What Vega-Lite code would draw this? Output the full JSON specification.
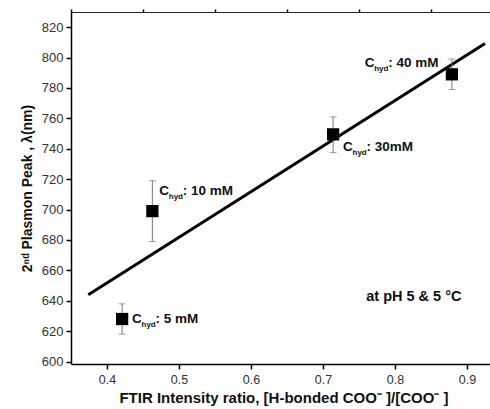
{
  "$schema": "https://vega.github.io/schema/vega-lite/v6.json",
  "width": 419,
  "height": 352,
  "autosize": {"type": "none"},
  "padding": {"left": 71, "top": 12, "right": 0, "bottom": 45},
  "background": "white",
  "config": {
    "view": {"stroke": null},
    "font": "Liberation Sans",
    "axis": {"grid": false, "domainColor": "#000", "domainWidth": 1.5, "tickColor": "#000", "tickWidth": 1.5, "labelColor": "#333", "labelFont": "Liberation Sans", "labelFontSize": 12.5, "titleFont": "Liberation Sans", "titleFontSize": 14, "titleFontWeight": "bold", "titleColor": "#111"}
  },
  "datasets": {
    "pts": [
      {"x": 0.421, "y": 628, "lo": 618, "hi": 638},
      {"x": 0.463, "y": 699, "lo": 679, "hi": 719},
      {"x": 0.714, "y": 749.5, "lo": 737.5, "hi": 761},
      {"x": 0.879, "y": 789, "lo": 779, "hi": 799}
    ],
    "fit": [
      {"x": 0.374, "y": 644},
      {"x": 0.925, "y": 809.3}
    ],
    "labels": [
      {"x": 0.4347, "y": 628, "rest": ": 5 mM"},
      {"x": 0.4726, "y": 712, "rest": ": 10 mM"},
      {"x": 0.7578, "y": 796.5, "rest": ": 40 mM"},
      {"x": 0.7278, "y": 741.5, "rest": ": 30mM"}
    ],
    "note": [{"x": 0.760, "y": 642.5, "t": "at pH 5 & 5 °C"}],
    "xminor": [{"v": 0.35}, {"v": 0.45}, {"v": 0.55}, {"v": 0.65}, {"v": 0.75}, {"v": 0.85}],
    "yminor": [{"v": 610}, {"v": 630}, {"v": 650}, {"v": 670}, {"v": 690}, {"v": 710}, {"v": 730}, {"v": 750}, {"v": 770}, {"v": 790}, {"v": 810}]
  },
  "resolve": {"axis": {"x": "independent", "y": "independent"}},
  "layer": [
    {
      "data": {"name": "fit"},
      "mark": {"type": "line", "color": "#000", "strokeWidth": 3},
      "encoding": {
        "x": {"field": "x", "type": "quantitative", "scale": {"domain": [0.35, 0.9319], "nice": false, "zero": false},
          "axis": {"values": [0.4, 0.5, 0.6, 0.7, 0.8, 0.9], "tickSize": 5, "labelPadding": 4, "title": "FTIR Intensity ratio, [H-bonded COO⁻ ]/[COO⁻ ]", "titlePadding": 5, "titleFontSize": 15, "titleX": 212.5, "format": ".1f"}},
        "y": {"field": "y", "type": "quantitative", "scale": {"domain": [598.4, 830], "nice": false, "zero": false},
          "axis": {"values": [600, 620, 640, 660, 680, 700, 720, 740, 760, 780, 800, 820], "tickSize": 5, "labelPadding": 3, "labelFontSize": 13, "title": "2ⁿᵈ Plasmon Peak , λ(nm)", "titlePadding": 7}}
      }
    },
    {
      "data": {"name": "xminor"},
      "mark": {"type": "point", "opacity": 0},
      "encoding": {
        "x": {"field": "v", "type": "quantitative", "axis": {"values": [0.35, 0.45, 0.55, 0.65, 0.75, 0.85], "tickSize": 3, "labels": false, "title": null, "domain": false}}
      }
    },
    {
      "data": {"name": "xminor"},
      "mark": {"type": "point", "opacity": 0},
      "encoding": {
        "x": {"field": "v", "type": "quantitative", "axis": {"orient": "top", "ticks": false, "labels": false, "title": null, "domain": true, "domainColor": "#222", "domainWidth": 1}}
      }
    },
    {
      "data": {"name": "yminor"},
      "mark": {"type": "point", "opacity": 0},
      "encoding": {
        "y": {"field": "v", "type": "quantitative", "axis": {"values": [610, 630, 650, 670, 690, 710, 730, 750, 770, 790, 810], "tickSize": 3, "labels": false, "title": null, "domain": false}}
      }
    },
    {
      "data": {"name": "pts"},
      "mark": {"type": "rule", "color": "#777", "strokeWidth": 1},
      "encoding": {
        "x": {"field": "x", "type": "quantitative", "axis": null},
        "y": {"field": "lo", "type": "quantitative", "axis": null},
        "y2": {"field": "hi"}
      }
    },
    {
      "data": {"name": "pts"},
      "mark": {"type": "tick", "orient": "horizontal", "color": "#777", "size": 7, "thickness": 1},
      "encoding": {
        "x": {"field": "x", "type": "quantitative", "axis": null},
        "y": {"field": "lo", "type": "quantitative", "axis": null}
      }
    },
    {
      "data": {"name": "pts"},
      "mark": {"type": "tick", "orient": "horizontal", "color": "#777", "size": 7, "thickness": 1},
      "encoding": {
        "x": {"field": "x", "type": "quantitative", "axis": null},
        "y": {"field": "hi", "type": "quantitative", "axis": null}
      }
    },
    {
      "data": {"name": "pts"},
      "mark": {"type": "square", "color": "#000", "filled": true, "opacity": 1, "size": 150},
      "encoding": {
        "x": {"field": "x", "type": "quantitative", "axis": null},
        "y": {"field": "y", "type": "quantitative", "axis": null}
      }
    },
    {
      "data": {"name": "labels"},
      "mark": {"type": "text", "text": "C", "align": "left", "baseline": "middle", "fontSize": 13.5, "fontWeight": "bold", "color": "#111"},
      "encoding": {
        "x": {"field": "x", "type": "quantitative", "axis": null},
        "y": {"field": "y", "type": "quantitative", "axis": null}
      }
    },
    {
      "data": {"name": "labels"},
      "mark": {"type": "text", "text": "hyd", "align": "left", "baseline": "middle", "fontSize": 8, "fontWeight": "bold", "color": "#111", "dx": 9.5, "dy": 6},
      "encoding": {
        "x": {"field": "x", "type": "quantitative", "axis": null},
        "y": {"field": "y", "type": "quantitative", "axis": null}
      }
    },
    {
      "data": {"name": "labels"},
      "mark": {"type": "text", "align": "left", "baseline": "middle", "fontSize": 13.5, "fontWeight": "bold", "color": "#111", "dx": 23.5},
      "encoding": {
        "x": {"field": "x", "type": "quantitative", "axis": null},
        "y": {"field": "y", "type": "quantitative", "axis": null},
        "text": {"field": "rest"}
      }
    },
    {
      "data": {"name": "note"},
      "mark": {"type": "text", "align": "left", "baseline": "middle", "fontSize": 14.5, "fontWeight": "bold", "color": "#111"},
      "encoding": {
        "x": {"field": "x", "type": "quantitative", "axis": null},
        "y": {"field": "y", "type": "quantitative", "axis": null},
        "text": {"field": "t"}
      }
    }
  ]
}
